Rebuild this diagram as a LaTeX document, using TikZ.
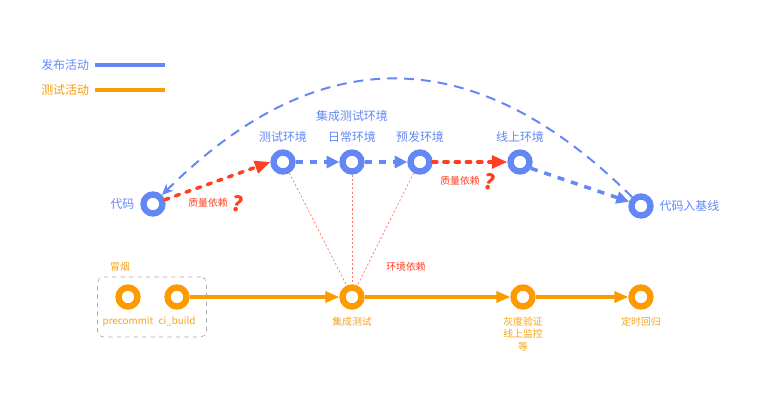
\documentclass[tikz,border=0pt]{standalone}
\usepackage{fontspec}
\setmainfont{Noto Sans CJK SC}
\usetikzlibrary{arrows.meta,positioning}
\definecolor{relblue}{HTML}{6388F5}
\definecolor{testorange}{HTML}{FD9A00}
\definecolor{lblorange}{HTML}{F7A21B}
\definecolor{depred}{HTML}{FF3F22}
\definecolor{boxgray}{HTML}{AAAAAA}
\tikzset{
  envnode/.style={circle, draw=relblue, line width=4.5pt, minimum size=13.5pt, inner sep=0pt},
  testnode/.style={circle, draw=testorange, line width=4.5pt, minimum size=13.5pt, inner sep=0pt},
  bluelbl/.style={text=relblue, font=\fontsize{8.5}{10}\selectfont, inner sep=1pt},
  orangelbl/.style={text=lblorange, font=\fontsize{7}{9}\selectfont, inner sep=1pt, align=center},
  redlbl/.style={text=depred, font=\fontsize{7}{9}\selectfont, inner sep=1pt},
  qmark/.style={text=depred, font=\fontsize{15}{15}\selectfont\bfseries, inner sep=0pt, rotate=-12},
  relflow/.style={draw=relblue, line width=2.5pt, dash pattern=on 5pt off 5pt, -{Triangle[length=9pt,width=8.5pt]}},
  qualdep/.style={draw=depred, line width=2.5pt, line cap=round, dash pattern=on 3pt off 5pt, -{Triangle[length=11pt,width=9pt,line cap=butt]}},
  envdep/.style={draw=depred!70, line width=0.5pt, dash pattern=on 1.5pt off 1.5pt},
  testflow/.style={draw=testorange, line width=2.2pt, -{Triangle[length=10pt,width=8pt]}},
  backarc/.style={draw=relblue, line width=1.4pt, dash pattern=on 7pt off 5pt, -{Stealth[length=8pt,width=7pt]}},
  legline/.style={line width=2.5pt},
}
\begin{document}
\begin{tikzpicture}[x=0.025cm, y=-0.025cm]
  \useasboundingbox (0,0) rectangle (765,404);
  % legend
  \node[bluelbl, anchor=east, inner sep=4pt] (legrel) at (95,65) {发布活动};
  \node[bluelbl, anchor=east, inner sep=4pt, text=testorange] (legtest) at (95,90) {测试活动};
  \coordinate (legrelend) at (165,65);
  \coordinate (legtestend) at (165,90);
  \draw[legline, relblue] (legrel.east) -- (legrelend);
  \draw[legline, testorange] (legtest.east) -- (legtestend);
  % release environments
  \node[envnode] (code) at (153,204) {};
  \node[envnode] (testenv) at (283,162) {};
  \node[envnode] (dailyenv) at (352,162) {};
  \node[envnode] (preenv) at (420,162) {};
  \node[envnode] (onlineenv) at (520,162) {};
  \node[envnode] (baseline) at (641,206) {};
  \node[bluelbl, left=3pt of code] (codelbl) {代码};
  \node[bluelbl, above=4pt of testenv] (testlbl) {测试环境};
  \node[bluelbl, above=4pt of dailyenv] (dailylbl) {日常环境};
  \node[bluelbl, above=4pt of preenv] (prelbl) {预发环境};
  \node[bluelbl, above=4pt of onlineenv] (onlinelbl) {线上环境};
  \node[bluelbl, above=4pt of dailylbl] (itenvlbl) {集成测试环境};
  \node[bluelbl, right=3pt of baseline] (baselinelbl) {代码入基线};
  % test activities
  \node[testnode] (precommit) at (128,297) {};
  \node[testnode] (cibuild) at (177,297) {};
  \node[testnode] (itest) at (352,297) {};
  \node[testnode] (gray) at (523,297) {};
  \node[testnode] (regress) at (641,297) {};
  \node[orangelbl, below=4pt of precommit] (precommitlbl) {precommit};
  \node[orangelbl, below=4pt of cibuild] (cibuildlbl) {ci\_build};
  \node[orangelbl, below=4pt of itest] (itestlbl) {集成测试};
  \node[orangelbl, below=4pt of gray] (graylbl) {灰度验证\\线上监控\\等};
  \node[orangelbl, below=4pt of regress] (regresslbl) {定时回归};
  \node[draw=boxgray, dashed, line width=0.5pt, rounded corners=4pt,
        minimum width=2.72cm, minimum height=1.5cm] (smoke) at (152,307) {};
  \node[orangelbl] (smokelbl) at (120,267) {冒烟};
  % dependencies
  \draw[envdep] (testenv.-60) -- (itest.115);
  \draw[envdep] (dailyenv.south) -- (itest.north);
  \draw[envdep] (preenv.-120) -- (itest.65);
  \node[redlbl] (envdeplbl) at (406,267) {环境依赖};
  \draw[qualdep] (code.20) -- (testenv.west);
  \node[redlbl] (qual1) at (208,203) {质量依赖};
  \node[qmark, right=2pt of qual1] (q1) {?};
  \draw[qualdep] (preenv.east) -- (onlineenv.west);
  \node[redlbl] (qual2) at (460,181) {质量依赖};
  \node[qmark, right=2pt of qual2] (q2) {?};
  % release flow
  \draw[relflow] (testenv.east) -- (dailyenv.west);
  \draw[relflow] (dailyenv.east) -- (preenv.west);
  \draw[relflow] (onlineenv.-30) -- (baseline.160);
  \draw[backarc] (baseline.north west) .. controls (474,40) and (318,40) .. (code.north east);
  % test flow
  \draw[testflow] (cibuild.east) -- (itest.west);
  \draw[testflow] (itest.east) -- (gray.west);
  \draw[testflow] (gray.east) -- (regress.west);
\end{tikzpicture}
\end{document}
